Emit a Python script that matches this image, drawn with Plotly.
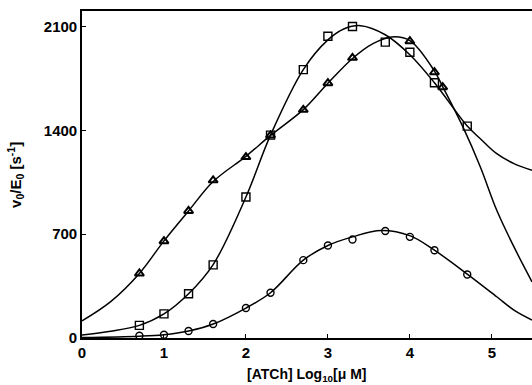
import plotly.graph_objects as go

# measured data points
tri_x = [0.7, 1.0, 1.3, 1.6, 2.0, 2.3, 2.7, 3.0, 3.3, 4.0, 4.3, 4.4]
tri_y = [435, 653, 857, 1063, 1220, 1366, 1539, 1718, 1889, 2001, 1792, 1691]

sq_x = [0.7, 1.0, 1.3, 1.6, 2.0, 2.3, 2.7, 3.0, 3.3, 3.7, 4.0, 4.3, 4.7]
sq_y = [85, 163, 298, 493, 951, 1368, 1810, 2035, 2100, 1995, 1927, 1721, 1429]

cir_x = [0.7, 1.0, 1.3, 1.6, 2.0, 2.3, 2.7, 3.0, 3.3, 3.7, 4.0, 4.3, 4.7]
cir_y = [15, 22, 47, 94, 202, 305, 525, 624, 664, 722, 682, 592, 428]

# fitted curves
tri_fit_x = [0, 0.35, 0.7, 1.0, 1.3, 1.6, 2.0, 2.3, 2.7, 3.0, 3.3, 3.55, 3.78, 4.0, 4.3, 4.4, 4.65, 4.86, 5.06, 5.27, 5.49]
tri_fit_y = [115, 245, 435, 655, 857, 1055, 1225, 1366, 1540, 1718, 1885, 1985, 2030, 2005, 1800, 1695, 1420, 1153, 861, 614, 379]

sq_fit_x = [0, 0.35, 0.7, 1.0, 1.3, 1.6, 2.0, 2.3, 2.7, 3.0, 3.2, 3.4, 3.7, 4.0, 4.3, 4.7, 4.86, 5.06, 5.27, 5.49]
sq_fit_y = [20, 45, 85, 162, 298, 495, 951, 1368, 1810, 2010, 2085, 2106, 2045, 1910, 1721, 1429, 1344, 1243, 1176, 1131]

cir_fit_x = [0, 0.7, 1.0, 1.3, 1.6, 2.0, 2.3, 2.7, 3.0, 3.3, 3.65, 4.0, 4.3, 4.7, 5.06, 5.27, 5.49]
cir_fit_y = [3, 12, 22, 47, 94, 202, 305, 525, 624, 682, 725, 690, 592, 431, 278, 188, 121]

x_ticks = [0, 1, 2, 3, 4, 5]
y_ticks = [0, 700, 1400, 2100]

fig = go.Figure()
line = dict(color="black", width=1.5, shape="spline", smoothing=1.0)
for fx, fy in [(tri_fit_x, tri_fit_y), (sq_fit_x, sq_fit_y), (cir_fit_x, cir_fit_y)]:
    fig.add_trace(go.Scatter(x=fx, y=fy, mode="lines", line=line, hoverinfo="skip"))

fig.add_trace(go.Scatter(x=tri_x, y=tri_y, mode="markers",
                         marker=dict(symbol="triangle-up-open", size=8, color="black", line=dict(width=2))))
fig.add_trace(go.Scatter(x=sq_x, y=sq_y, mode="markers",
                         marker=dict(symbol="square-open", size=8, color="black", line=dict(width=1.4))))
fig.add_trace(go.Scatter(x=cir_x, y=cir_y, mode="markers",
                         marker=dict(symbol="circle-open", size=7, color="black", line=dict(width=1.4))))

FONT = "Liberation Sans, Arial, sans-serif"
tickfont = dict(family=FONT, size=15, color="black", weight="bold")

fig.update_layout(
    width=532, height=385,
    margin=dict(l=82, r=0, t=11, b=47),
    paper_bgcolor="white", plot_bgcolor="white",
    showlegend=False,
    xaxis=dict(range=[0, 5.49], tickvals=x_ticks, ticks="inside", ticklen=4, tickwidth=1.2,
               tickcolor="black", showline=True, linecolor="black", linewidth=1.6, mirror=True,
               showgrid=False, zeroline=False, tickfont=tickfont),
    yaxis=dict(range=[0, 2205], tickvals=y_ticks, ticks="inside", ticklen=4, tickwidth=1.2,
               tickcolor="black", showline=True, linecolor="black", linewidth=1.6,
               showgrid=False, zeroline=False, tickfont=tickfont),
    annotations=[
        dict(text="[ATCh] Log<sub>10</sub>[μ M]", xref="paper", yref="paper",
             x=0.5, y=-0.112, xanchor="center", yanchor="middle", showarrow=False,
             font=dict(family=FONT, size=14, color="black", weight="bold")),
        dict(text="v<sub>0</sub>/E<sub>0</sub> [s<sup>-1</sup>]", xref="paper", yref="paper",
             x=-0.148, y=0.5, xanchor="center", yanchor="middle", showarrow=False, textangle=-90,
             font=dict(family=FONT, size=15, color="black", weight="bold")),
    ],
)

fig.write_html("out.html")
